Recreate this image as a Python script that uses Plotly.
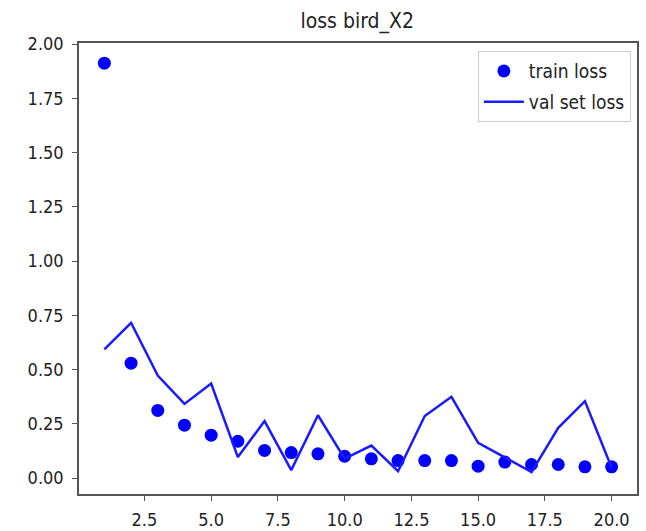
import plotly.graph_objects as go

epochs = list(range(1, 21))
train_loss = [1.912, 0.530, 0.312, 0.244, 0.198, 0.170, 0.128, 0.118, 0.112, 0.101,
              0.089, 0.081, 0.081, 0.081, 0.055, 0.074, 0.063, 0.063, 0.052, 0.052]
val_loss = [0.593, 0.716, 0.473, 0.342, 0.436, 0.097, 0.263, 0.037, 0.290, 0.090,
            0.150, 0.032, 0.286, 0.375, 0.163, 0.094, 0.028, 0.232, 0.355, 0.048]
x_ticks = [2.5, 5.0, 7.5, 10.0, 12.5, 15.0, 17.5, 20.0]
y_ticks = [0.0, 0.25, 0.5, 0.75, 1.0, 1.25, 1.5, 1.75, 2.0]

FONT = "DejaVu Sans Condensed, DejaVu Sans"

fig = go.Figure()
fig.add_trace(go.Scatter(
    x=epochs, y=train_loss, mode="markers", name="train loss", legendgroup="a",
    marker=dict(color="#0000ff", size=13, symbol="circle"),
))
fig.add_trace(go.Scatter(
    x=epochs, y=val_loss, mode="lines", name="val set loss", legendgroup="b",
    line=dict(color="#1a1aff", width=2.5),
))

axis_common = dict(
    showgrid=False, zeroline=False, showline=True, linecolor="#555555",
    linewidth=1.5, mirror=True, ticks="outside", ticklen=5, tickcolor="#555555",
    tickfont=dict(family=FONT, size=18, color="#222222"),
    automargin=False,
)

fig.update_layout(
    width=646, height=531,
    margin=dict(l=79, r=9, t=43, b=37),
    paper_bgcolor="white", plot_bgcolor="white",
    title=dict(text="loss bird_X2", x=0.553, xanchor="center", y=0.962, yanchor="middle",
               font=dict(family=FONT, size=21, color="#222222")),
    showlegend=True,
    legend=dict(x=0.989, xanchor="right", y=0.982, yanchor="top",
                bgcolor="white", bordercolor="#cccccc", borderwidth=1,
                font=dict(family=FONT, size=19, color="#222222"),
                tracegroupgap=3, itemwidth=40),
    xaxis=dict(range=[0.05, 20.95], tickvals=x_ticks, tickformat=".1f",
               ticklabelstandoff=4, **axis_common),
    yaxis=dict(range=[-0.073, 2.005], tickvals=y_ticks, tickformat=".2f",
               ticklabelstandoff=5, **axis_common),
)

fig.write_html("out.html")
